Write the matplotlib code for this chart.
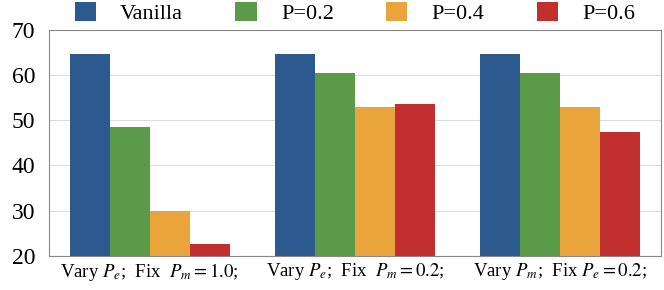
import numpy as np
import matplotlib
matplotlib.use("Agg")
import matplotlib.pyplot as plt

plt.rcParams['font.family'] = ['Liberation Serif', 'DejaVu Serif']
plt.rcParams['mathtext.fontset'] = 'stix'

# data
groups = ["Vary $P_e$;  Fix  $P_m = 1.0$;", "Vary $P_e$;  Fix  $P_m = 0.2$;", "Vary $P_m$;  Fix $P_e = 0.2$;"]
series = ["Vanilla", "P=0.2", "P=0.4", "P=0.6"]
vanilla = [64.7, 64.7, 64.7]
p02 = [48.4, 60.5, 60.5]
p04 = [29.9, 53.0, 52.9]
p06 = [22.6, 53.7, 47.5]
colors = ["#2d5a8e", "#5b9a48", "#e9a43c", "#c1302f"]

fig, ax = plt.subplots(figsize=(6.64, 2.9), dpi=100)
fig.subplots_adjust(left=0.074, right=0.995, top=0.897, bottom=0.118)

x = np.arange(len(groups))
w = 0.195
for i, (name, vals) in enumerate(zip(series, [vanilla, p02, p04, p06])):
    ax.bar(x + (i - 1.5) * w, vals, w, color=colors[i], label=name, zorder=3)

ax.set_ylim(20, 70)
ax.set_xlim(-0.49, 2.49)
ax.set_yticks([20, 30, 40, 50, 60, 70])
ax.yaxis.grid(True, color="#dddddd", linewidth=0.8, zorder=0)
ax.set_xticks(x)
ax.set_xticklabels(groups, fontsize=13.5)
ax.tick_params(axis='y', labelsize=17, length=0, pad=10)
ax.tick_params(axis='x', length=0, pad=4)
for s in ax.spines.values():
    s.set_color("#888888")

ax.legend(loc='lower center', bbox_to_anchor=(0.5, 0.985), ncol=4, frameon=False,
          fontsize=16, handlelength=0.95, handleheight=0.95, columnspacing=2.35,
          handletextpad=1.1, borderaxespad=0.0)

plt.savefig("out.png")
